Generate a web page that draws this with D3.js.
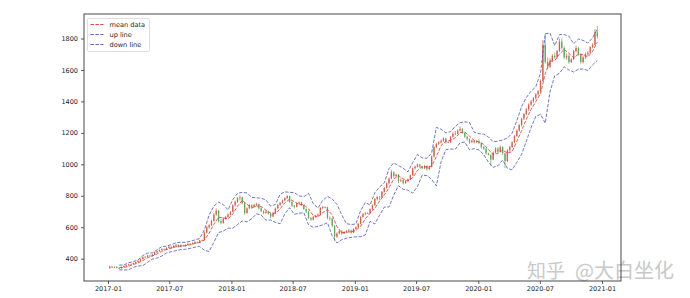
<!DOCTYPE html>
<html>
<head>
<meta charset="utf-8">
<script src="https://cdn.jsdelivr.net/npm/d3@7"></script>
<style>
  body { margin: 0; background: #fff; }
  svg { display: block; font-family: "DejaVu Sans", sans-serif; }
</style>
</head>
<body>
<div id="chart"></div>
<script>
// weekly candles, one per Friday starting 2017-01-06
const weekStart = new Date(2017, 0, 6);
const open = [
  340,350,343,348,341,338,347,353,358,364, 366,372,378,386,398,410,412,420,418,426,
  440,448,455,462,457,468,476,470,482,488, 476,485,480,487,495,492,500,506,502,516,
  518,565,600,612,640,680,705,640,628,655, 665,680,697,740,762,785,790,752,690,720,
  740,728,742,748,720,702,690,700,686,668, 690,720,742,755,770,785,798,760,738,730,
  750,758,742,715,700,660,648,665,672,680, 722,728,728,660,655,610,540,560,575,560,
  568,575,580,565,588,600,622,665,685,690, 690,715,740,780,792,790,825,850,880,910,
  950,925,935,895,900,880,895,905,930,975, 985,998,985,975,990,970,985,1050,1110,1130,
  1140,1150,1165,1140,1140,1175,1195,1195,1215,1225, 1200,1175,1160,1140,1150,1140,1145,1135,1110,1100,
  1070,1060,1030,1075,1100,1080,1110,1070,1020,1090, 1110,1140,1180,1215,1250,1290,1320,1350,1380,1400,
  1420,1445,1465,1530,1760,1650,1620,1660,1690,1680, 1720,1780,1740,1680,1690,1650,1668,1720,1740,1700,
  1650,1680,1700,1710,1745,1760,1840
];
const high = [
  354,353,351,352,343,349,356,362,368,370, 375,382,390,402,415,418,424,425,430,444,
  452,459,466,465,472,480,478,486,494,490, 490,488,491,499,498,505,512,510,520,522,
  572,608,620,648,690,719,710,652,662,672, 688,702,745,770,792,803,795,758,726,748,
  745,750,756,752,726,708,708,705,692,696, 726,748,760,776,792,805,800,765,742,756,
  764,762,746,720,704,664,672,680,688,728, 735,732,730,668,660,612,568,582,580,574,
  582,588,584,592,605,628,670,690,696,695, 720,746,786,800,798,830,856,886,915,965,
  955,940,938,912,905,900,910,935,980,992, 1005,1002,990,995,994,990,1056,1116,1138,1148,
  1158,1172,1168,1146,1180,1205,1212,1222,1240,1230, 1205,1182,1165,1158,1154,1152,1160,1140,1118,1104,
  1074,1064,1082,1108,1110,1120,1116,1074,1096,1118, 1146,1186,1222,1258,1296,1328,1358,1388,1410,1428,
  1452,1472,1540,1790,1828,1680,1675,1700,1710,1728, 1800,1800,1750,1705,1700,1676,1728,1755,1748,1706,
  1690,1712,1720,1752,1770,1860,1880
];
const low = [
  336,340,340,339,335,336,345,350,355,360, 362,369,375,384,395,404,408,412,415,424,
  436,444,452,452,455,465,464,468,478,470, 474,475,477,484,487,490,497,498,500,512,
  516,560,590,608,636,672,630,618,622,648, 660,675,695,732,755,770,745,680,686,716,
  720,725,738,712,695,684,686,680,655,664, 686,716,736,750,765,780,755,728,718,726,
  744,736,710,690,652,640,644,660,666,676, 715,720,650,640,600,512,532,555,552,556,
  562,570,558,562,585,596,618,660,676,684, 686,710,736,770,770,785,820,846,872,905,
  915,918,880,888,872,876,890,900,926,968, 980,978,968,970,960,962,980,1044,1102,1122,
  1132,1144,1132,1134,1136,1170,1185,1190,1208,1195, 1168,1150,1130,1135,1132,1134,1128,1100,1092,1062,
  1056,990,1026,1070,1070,1076,1058,975,1014,1080, 1104,1134,1172,1208,1242,1282,1312,1340,1372,1390,
  1412,1436,1460,1525,1640,1610,1612,1650,1670,1672, 1714,1730,1670,1665,1640,1644,1662,1712,1690,1640,
  1642,1670,1690,1704,1738,1755,1800
];
const close = [
  350,343,348,341,338,347,353,358,364,366, 372,378,386,398,410,412,420,418,426,440,
  448,455,462,457,468,476,470,482,488,476, 485,480,487,495,492,500,506,502,516,518,
  565,600,612,640,680,705,640,628,655,665, 680,697,740,762,785,790,752,690,720,740,
  728,742,748,720,702,690,700,686,668,690, 720,742,755,770,785,798,760,738,730,750,
  758,742,715,700,660,648,665,672,680,722, 728,728,660,655,610,540,560,575,560,568,
  575,580,565,588,600,622,665,685,690,690, 715,740,780,792,790,825,850,880,910,950,
  925,935,895,900,880,895,905,930,975,985, 998,985,975,990,970,985,1050,1110,1130,1140,
  1150,1165,1140,1140,1175,1195,1195,1215,1225,1200, 1175,1160,1140,1150,1140,1145,1135,1110,1100,1070,
  1060,1030,1075,1100,1080,1110,1070,1020,1090,1110, 1140,1180,1215,1250,1290,1320,1350,1380,1400,1420,
  1445,1465,1530,1760,1650,1620,1660,1690,1680,1720, 1780,1740,1680,1690,1650,1668,1720,1740,1700,1650,
  1680,1700,1710,1745,1760,1840,1815
];

// lines: one value every second week, starting at week 4
const lineFirstWeek = 4;
const meanData = [
  344,344,352,363,373,388,406,417,430,447, 458,467,476,481,482,488,496,503,518,562,
  619,663,660,652,685,733,771,746,722,736, 731,709,690,688,716,755,778,763,744,743,
  716,674,664,693,712,678,604,565,568,571, 580,606,654,689,720,766,805,851,907,928,
  908,894,914,960,986,983,989,1049,1120,1147, 1152,1169,1201,1206,1179,1152,1143,1127,1094,1062,
  1069,1091,1071,1081,1146,1215,1286,1349,1399,1449, 1576,1656,1659,1702,1730,1706,1677,1701,1697,1684,
  1719,1777
];
const upLine = [
  359,360,374,381,393,420,435,437,456,477, 480,489,501,504,504,511,519,528,583,678,
  734,760,744,710,776,815,822,818,790,787, 785,773,734,745,810,825,822,820,799,794,
  816,749,722,771,796,780,745,680,623,617, 621,705,757,741,819,856,882,973,1009,992,
  975,952,1011,1062,1041,1038,1073,1235,1223,1201, 1207,1242,1265,1270,1266,1204,1195,1192,1174,1143,
  1147,1155,1167,1198,1278,1367,1425,1465,1493,1580, 1830,1835,1755,1825,1825,1815,1767,1797,1788,1771,
  1805,1860
];
const downLine = [
  329,328,330,345,353,356,377,397,404,417, 436,445,451,458,460,465,473,478,453,446,
  504,566,576,594,594,617,640,634,654,685, 677,645,646,631,622,685,724,682,689,692,
  616,599,606,615,628,545,500,520,530,535, 539,540,551,637,621,676,728,729,805,864,
  841,836,817,858,931,928,905,863,1017,1093, 1097,1096,1137,1142,1092,1100,1091,1062,1014,981,
  991,1027,975,964,1014,1063,1147,1233,1305,1318, 1262,1460,1563,1579,1620,1600,1587,1605,1606,1597,
  1633,1660
];

const yTicks = [400, 600, 800, 1000, 1200, 1400, 1600, 1800];
const xTicks = ["2017-01", "2017-07", "2018-01", "2018-07", "2019-01", "2019-07", "2020-01", "2020-07", "2021-01"];
const legendLabels = ["mean data", "up line", "down line"];

const red = "#e8302a";
const blue = "#4a58bf";
const upColor = "#c2391f";
const downColor = "#3a9138";

const width = 690, height = 298;
const plot = { left: 84, right: 621, top: 14, bottom: 281 };

const weeks = close.map((c, i) => d3.timeDay.offset(weekStart, 7 * i));
const candles = close.map((c, i) => ({ date: weeks[i], o: open[i], h: high[i], l: low[i], c: c }));
const lineWeeks = meanData.map((m, i) => weeks[lineFirstWeek + 2 * i]);

const x = d3.scaleTime()
  .domain([new Date(2016, 9, 22), new Date(2021, 1, 26)])
  .range([plot.left, plot.right]);
const y = d3.scaleLinear()
  .domain([258, 1956])
  .range([plot.bottom, plot.top]);

const svg = d3.select('#chart').append('svg')
  .attr('width', width)
  .attr('height', height);

svg.append('rect').attr('width', width).attr('height', height).attr('fill', '#fff');

// watermark
svg.append('text')
  .attr('x', 527).attr('y', 278)
  .attr('fill', '#c9c9c9')
  .style('font-family', '"Noto Sans CJK SC", sans-serif')
  .style('font-size', '19px')
  .text('知乎');
svg.append('text')
  .attr('x', 575).attr('y', 278)
  .attr('fill', '#c9c9c9')
  .style('font-family', '"Noto Sans CJK SC", sans-serif')
  .style('font-size', '20px')
  .text('@大白坐化');

// candles
const g = svg.append('g');
const candle = g.selectAll('.candle')
  .data(candles)
  .enter()
  .append('g')
  .attr('class', 'candle')
  .attr('opacity', 0.8);

candle.append('line')
  .attr('x1', d => x(d.date)).attr('x2', d => x(d.date))
  .attr('y1', d => y(d.h)).attr('y2', d => y(d.l))
  .attr('stroke', d => d.c >= d.o ? upColor : downColor)
  .attr('stroke-width', 0.7);

candle.append('rect')
  .attr('x', d => x(d.date) - 0.65)
  .attr('width', 1.3)
  .attr('y', d => y(Math.max(d.o, d.c)))
  .attr('height', d => Math.max(0.6, Math.abs(y(d.o) - y(d.c))))
  .attr('fill', d => d.c >= d.o ? upColor : downColor);

// lines
const lineGen = d3.line()
  .x((d, i) => x(lineWeeks[i]))
  .y(d => y(d));

const series = [
  { values: meanData, color: red },
  { values: upLine, color: blue },
  { values: downLine, color: blue }
];

g.selectAll('.band')
  .data(series)
  .enter()
  .append('path')
  .attr('class', 'band')
  .attr('d', d => lineGen(d.values))
  .attr('fill', 'none')
  .attr('stroke', d => d.color)
  .attr('stroke-width', 0.9)
  .attr('stroke-dasharray', '3.4,1.5')
  .attr('opacity', 0.9);

// axes
const xAxis = svg.append('g')
  .attr('transform', 'translate(0,' + plot.bottom + ')')
  .call(d3.axisBottom(x)
    .tickValues(xTicks.map(d3.timeParse('%Y-%m')))
    .tickFormat(d3.timeFormat('%Y-%m'))
    .tickSize(3)
    .tickPadding(2));

const yAxis = svg.append('g')
  .attr('transform', 'translate(' + plot.left + ',0)')
  .call(d3.axisLeft(y)
    .tickValues(yTicks)
    .tickFormat(d3.format('d'))
    .tickSize(3)
    .tickPadding(3));

[xAxis, yAxis].forEach(a => {
  a.select('.domain').remove();
  a.selectAll('line').attr('stroke', '#333').attr('stroke-width', 0.8);
  a.selectAll('text')
    .attr('fill', null)
    .style('fill', '#262626')
    .style('font-size', '6.5px')
    .style('font-family', '"DejaVu Sans", sans-serif');
});

// frame
svg.append('rect')
  .attr('x', plot.left).attr('y', plot.top)
  .attr('width', plot.right - plot.left)
  .attr('height', plot.bottom - plot.top)
  .attr('fill', 'none')
  .attr('stroke', '#333')
  .attr('stroke-width', 0.9);

// legend
const legend = svg.append('g').attr('transform', 'translate(87.5,18.5)');
legend.append('rect')
  .attr('width', 62).attr('height', 33)
  .attr('rx', 1.5)
  .attr('fill', '#fff')
  .attr('fill-opacity', 0.8)
  .attr('stroke', '#d6d6d6')
  .attr('stroke-width', 0.8);

const item = legend.selectAll('.legend')
  .data(series)
  .enter()
  .append('g')
  .attr('class', 'legend')
  .attr('transform', (d, i) => 'translate(0,' + (6 + i * 10) + ')');

item.append('line')
  .attr('x1', 3).attr('x2', 16)
  .attr('stroke', d => d.color)
  .attr('stroke-width', 0.9)
  .attr('stroke-dasharray', '3.4,1.5');

item.append('text')
  .attr('x', 22).attr('y', 2.3)
  .style('fill', '#262626')
  .style('font-size', '6.6px')
  .text((d, i) => legendLabels[i]);
</script>
</body>
</html>
